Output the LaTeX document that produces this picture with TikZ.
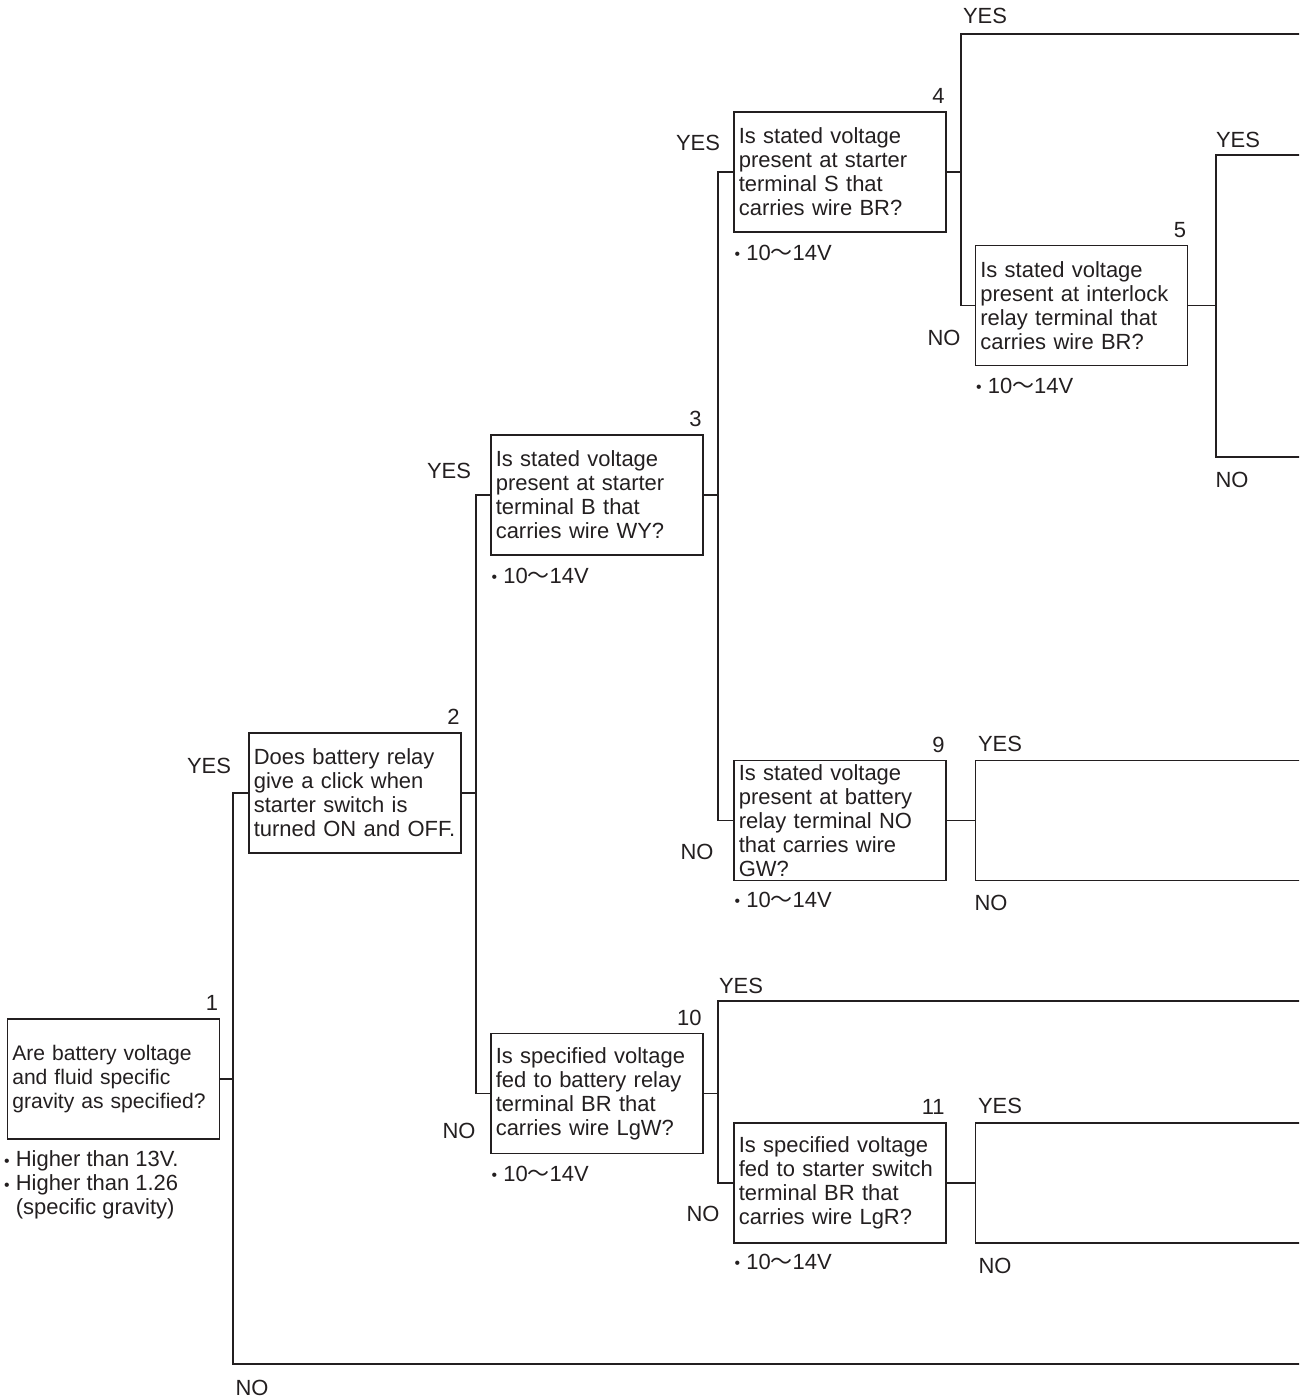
\documentclass[tikz,border=0pt]{standalone}
\usepackage{fontspec}
\setmainfont{Liberation Sans}
\newfontfamily\cjk{Noto Sans CJK JP}
\usepackage{xcolor}
\usetikzlibrary{positioning}
\definecolor{ink}{HTML}{231F20}
\newcommand{\dotmark}{\raisebox{0.4pt}{\fontsize{9}{9}\selectfont •}}
\newcommand{\volt}{\dotmark\ 10{\cjk ～}14V}

\begin{document}
\begin{tikzpicture}[
  x=0.02cm, y=-0.02cm,
  every node/.style={font=\fontsize{12.5}{13.66}\selectfont, text=ink, inner sep=0pt},
  qbox/.style={draw=ink, line width=0.8pt, minimum width=4.24cm, minimum height=2.4cm,
    text width=115.2pt, inner xsep=2.7pt, inner ysep=2pt, align=left},
  openbox/.style={draw=ink, line width=0.8pt, minimum width=7.2cm, minimum height=2.4cm},
  wire/.style={draw=ink, line width=0.8pt},
  num/.style={inner xsep=1pt, inner ysep=4pt},
  note/.style={align=left}
]
  \useasboundingbox (0,0) rectangle (1299,1400);
  \clip (0,0) rectangle (1299,1400);

  % question boxes
  \node[qbox, font=\fontsize{12}{13.66}\selectfont] (b1) at (113.5,1079) {Are battery voltage\\and fluid specific\\gravity as specified?};
  \node[qbox] (b2) at (355,793) {Does battery relay\\give a click when\\starter switch is\\turned ON and OFF.};
  \node[qbox] (b3) at (597,495) {Is stated voltage\\present at starter\\terminal B that\\carries wire WY?};
  \node[qbox] (b4) at (840,172) {Is stated voltage\\present at starter\\terminal S that\\carries wire BR?};
  \node[qbox] (b5) at (1081.5,305.5) {Is stated voltage\\present at interlock\\relay terminal that\\carries wire BR?};
  \node[qbox] (b9) at (840,820.5) {Is stated voltage\\present at battery\\relay terminal NO\\that carries wire\\GW?};
  \node[qbox] (b10) at (597,1093.5) {Is specified voltage\\fed to battery relay\\terminal BR that\\carries wire LgW?};
  \node[qbox] (b11) at (840,1183) {Is specified voltage\\fed to starter switch\\terminal BR that\\carries wire LgR?};
  \node[openbox, anchor=west] (r9) at (975,820.5) {};
  \node[openbox, anchor=west] (r11) at (975,1183) {};

  % step numbers
  \node[num, above left=0pt of b1.north east] (k1) {1};
  \node[num, above left=0pt of b2.north east] (k2) {2};
  \node[num, above left=0pt of b3.north east] (k3) {3};
  \node[num, above left=0pt of b4.north east] (k4) {4};
  \node[num, above left=0pt of b5.north east] (k5) {5};
  \node[num, above left=0pt of b9.north east] (k9) {9};
  \node[num, above left=0pt of b10.north east] (k10) {10};
  \node[num, above left=0pt of b11.north east] (k11) {11};

  % specs under the boxes
  \node[note, anchor=north west] (v1) at ([xshift=-0.06cm, yshift=-0.22cm]b1.south west) {\dotmark\ Higher than 13V.\\\dotmark\ Higher than 1.26\\\phantom{\dotmark\ }(specific gravity)};
  \node[anchor=base west] (v3) at ([xshift=0.02cm, yshift=-0.56cm]b3.south west) {\volt};
  \node[anchor=base west] (v4) at ([xshift=0.02cm, yshift=-0.56cm]b4.south west) {\volt};
  \node[anchor=base west] (v5) at ([xshift=0.02cm, yshift=-0.54cm]b5.south west) {\volt};
  \node[anchor=base west] (v9) at ([xshift=0.02cm, yshift=-0.52cm]b9.south west) {\volt};
  \node[anchor=base west] (v10) at ([xshift=0.02cm, yshift=-0.54cm]b10.south west) {\volt};
  \node[anchor=base west] (v11) at ([xshift=0.02cm, yshift=-0.52cm]b11.south west) {\volt};

  % branch points and open ends
  \coordinate (j1) at (233,1079);
  \coordinate (j2) at (476,793);
  \coordinate (j3) at (718,495);
  \coordinate (j4) at (961,172);
  \coordinate (j5) at (1216,305.5);
  \coordinate (j10) at (718,1093.5);
  \coordinate (e1) at (1320,1364);
  \coordinate (e4) at (1320,34);
  \coordinate (e5a) at (1320,155);
  \coordinate (e5b) at (1320,457);
  \coordinate (e10) at (1320,1001);

  \draw[wire] (b1.east) -- (j1) |- (b2.west);
  \draw[wire] (j1) |- (e1);
  \draw[wire] (b2.east) -- (j2) |- (b3.west);
  \draw[wire] (j2) |- (b10.west);
  \draw[wire] (b3.east) -- (j3) |- (b4.west);
  \draw[wire] (j3) |- (b9.west);
  \draw[wire] (b4.east) -- (j4) |- (e4);
  \draw[wire] (j4) |- (b5.west);
  \draw[wire] (b5.east) -- (j5) |- (e5a);
  \draw[wire] (j5) |- (e5b);
  \draw[wire] (b9.east) -- (r9.west);
  \draw[wire] (b10.east) -- (j10) |- (e10);
  \draw[wire] (j10) |- (b11.west);
  \draw[wire] (b11.east) -- (r11.west);

  % YES / NO
  \node (y1) at (209,766) {YES};
  \node (n1) at (252,1388) {NO};
  \node (y2) at (449,471) {YES};
  \node (n2) at (459,1131) {NO};
  \node (y3) at (698,143) {YES};
  \node (n3) at (697,852) {NO};
  \node (y4) at (985,16) {YES};
  \node (n4) at (944,338) {NO};
  \node (y5) at (1238,140) {YES};
  \node (n5) at (1232,480) {NO};
  \node (y9) at (1000,744) {YES};
  \node (n9) at (991,903) {NO};
  \node (y10) at (741,986) {YES};
  \node (n10) at (703,1214) {NO};
  \node (y11) at (1000,1106) {YES};
  \node (n11) at (995,1266) {NO};
\end{tikzpicture}
\end{document}
